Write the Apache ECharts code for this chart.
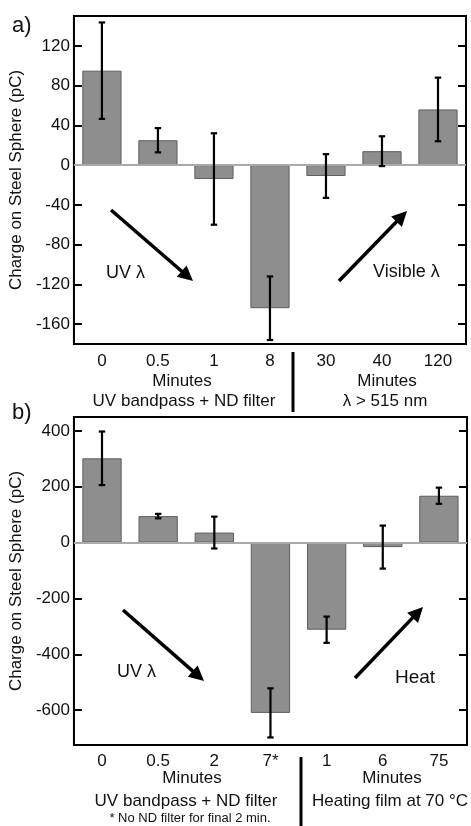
<!DOCTYPE html>
<html>
<head>
<meta charset="utf-8">
<script src="https://cdn.jsdelivr.net/npm/echarts@6/dist/echarts.min.js"></script>
<style>
html,body{margin:0;padding:0;background:#fff;}
#chart{width:471px;height:826px;}
</style>
</head>
<body>
<div id="chart"></div>
<script>
// Panel a
var catsA = ['0', '0.5', '1', '8', '30', '40', '120'];
var valsA = [95, 25, -14, -144, -11, 14, 56];
var errA = [48.5, 12.2, 46, 32, 22, 15, 32];
var ticksA = [-160, -120, -80, -40, 0, 40, 80, 120];
// Panel b
var catsB = ['0', '0.5', '2', '7*', '1', '6', '75'];
var valsB = [302, 95, 36, -610, -312, -16, 168];
var errB = [96, 8, 57, 88, 47, 77, 29];
var ticksB = [-600, -400, -200, 0, 200, 400];

var FONT = "'Liberation Sans', Arial, sans-serif";
var chart = echarts.init(document.getElementById('chart'), null, {renderer: 'canvas'});

function errData(vals, errs) {
  return vals.map(function (v, i) { return [i, v, errs[i]]; });
}
function errRender(params, api) {
  var i = api.value(0), v = api.value(1), e = api.value(2);
  var top = api.coord([i, v + e]);
  var bot = api.coord([i, v - e]);
  var cw = 3.2;
  var st = {stroke: '#000', lineWidth: 2.2};
  return {type: 'group', children: [
    {type: 'line', shape: {x1: top[0], y1: top[1], x2: bot[0], y2: bot[1]}, style: st},
    {type: 'line', shape: {x1: top[0] - cw, y1: top[1], x2: top[0] + cw, y2: top[1]}, style: st},
    {type: 'line', shape: {x1: bot[0] - cw, y1: bot[1], x2: bot[0] + cw, y2: bot[1]}, style: st}
  ]};
}
function arrow(x1, y1, x2, y2) {
  var ang = Math.atan2(y2 - y1, x2 - x1);
  var L = 15, W = 7.5;
  var bx = x2 - L * Math.cos(ang), by = y2 - L * Math.sin(ang);
  var px = -Math.sin(ang), py = Math.cos(ang);
  return {type: 'group', children: [
    {type: 'line', shape: {x1: x1, y1: y1, x2: bx + 2 * Math.cos(ang), y2: by + 2 * Math.sin(ang)}, style: {stroke: '#000', lineWidth: 3.5}},
    {type: 'polygon', shape: {points: [[x2, y2], [bx + px * W, by + py * W], [bx - px * W, by - py * W]]}, style: {fill: '#000'}}
  ]};
}
function txt(x, y, s, size, align) {
  return {type: 'text', x: x, y: y, style: {text: s, font: size + 'px ' + FONT, fill: '#111', align: align || 'center', verticalAlign: 'middle'}};
}
function yAxes(min, max, ticks, gridIndex) {
  var line = {show: true, lineStyle: {color: '#000', width: 2}};
  return [{
    type: 'value', gridIndex: gridIndex, min: min, max: max, position: 'left',
    axisLine: line,
    axisTick: {show: true, inside: true, length: 8, customValues: ticks, lineStyle: {color: '#000', width: 2}},
    axisLabel: {customValues: ticks, fontSize: 17, fontFamily: FONT, color: '#111', margin: 4},
    splitLine: {show: false},
    name: 'Charge on Steel Sphere (pC)', nameLocation: 'middle', nameGap: 42,
    nameTextStyle: {fontSize: 17, fontFamily: FONT, color: '#111'}
  }, {
    type: 'value', gridIndex: gridIndex, min: min, max: max, position: 'right',
    axisLine: line,
    axisTick: {show: true, inside: true, length: 8, customValues: ticks, lineStyle: {color: '#000', width: 2}},
    axisLabel: {show: false},
    splitLine: {show: false}
  }];
}
function xAxis(cats, gridIndex, margin) {
  return {
    type: 'category', gridIndex: gridIndex, data: cats,
    axisLine: {show: true, onZero: false, lineStyle: {color: '#000', width: 2}},
    axisTick: {show: false},
    axisLabel: {fontSize: 17, fontFamily: FONT, color: '#111', margin: margin, interval: 0},
    splitLine: {show: false}
  };
}
var barStyle = {color: '#8e8e8e', borderColor: '#5e5e5e', borderWidth: 1};
var zeroLine = {silent: true, symbol: 'none', label: {show: false},
  lineStyle: {color: '#aaaaaa', width: 2, type: 'solid'}, data: [{yAxis: 0}]};

var option = {
  animation: false,
  grid: [
    {left: 71, top: 16, width: 395, height: 328, show: true, borderColor: '#000', borderWidth: 2, backgroundColor: 'transparent'},
    {left: 73, top: 417, width: 394, height: 328, show: true, borderColor: '#000', borderWidth: 2, backgroundColor: 'transparent'}
  ],
  xAxis: [xAxis(catsA, 0, 9), xAxis(catsB, 1, 8)],
  yAxis: yAxes(-180, 150, ticksA, 0).concat(yAxes(-725, 450, ticksB, 1)),
  series: [
    {type: 'bar', xAxisIndex: 0, yAxisIndex: 0, data: valsA, barWidth: '70%', itemStyle: barStyle, markLine: zeroLine, z: 2},
    {type: 'custom', xAxisIndex: 0, yAxisIndex: 0, data: errData(valsA, errA), renderItem: errRender, z: 5},
    {type: 'bar', xAxisIndex: 1, yAxisIndex: 2, data: valsB, barWidth: '70%', itemStyle: barStyle, markLine: zeroLine, z: 2},
    {type: 'custom', xAxisIndex: 1, yAxisIndex: 2, data: errData(valsB, errB), renderItem: errRender, z: 5}
  ],
  graphic: [
    txt(12, 26, 'a)', 22, 'left'),
    txt(12, 413, 'b)', 22, 'left'),
    txt(182, 381, 'Minutes', 17),
    txt(184, 401, 'UV bandpass + ND filter', 17),
    txt(387, 381, 'Minutes', 17),
    txt(385, 401, 'λ > 515 nm', 17),
    {type: 'line', shape: {x1: 293, y1: 352, x2: 293, y2: 412}, style: {stroke: '#000', lineWidth: 3}},
    txt(192, 778, 'Minutes', 17),
    txt(186, 801, 'UV bandpass + ND filter', 17),
    txt(190, 818, '* No ND filter for final 2 min.', 13),
    txt(392, 778, 'Minutes', 17),
    txt(390, 801, 'Heating film at 70 °C', 17),
    {type: 'line', shape: {x1: 301, y1: 757, x2: 301, y2: 826}, style: {stroke: '#000', lineWidth: 3}},
    arrow(111, 210, 193, 281),
    arrow(339, 281, 407, 211),
    txt(106, 273, 'UV λ', 18, 'left'),
    txt(373, 272, 'Visible λ', 18, 'left'),
    arrow(123, 610, 204, 681),
    arrow(355, 678, 423, 607),
    txt(117, 672, 'UV λ', 18, 'left'),
    txt(395, 678, 'Heat', 19, 'left')
  ]
};
chart.setOption(option);
</script>
</body>
</html>
